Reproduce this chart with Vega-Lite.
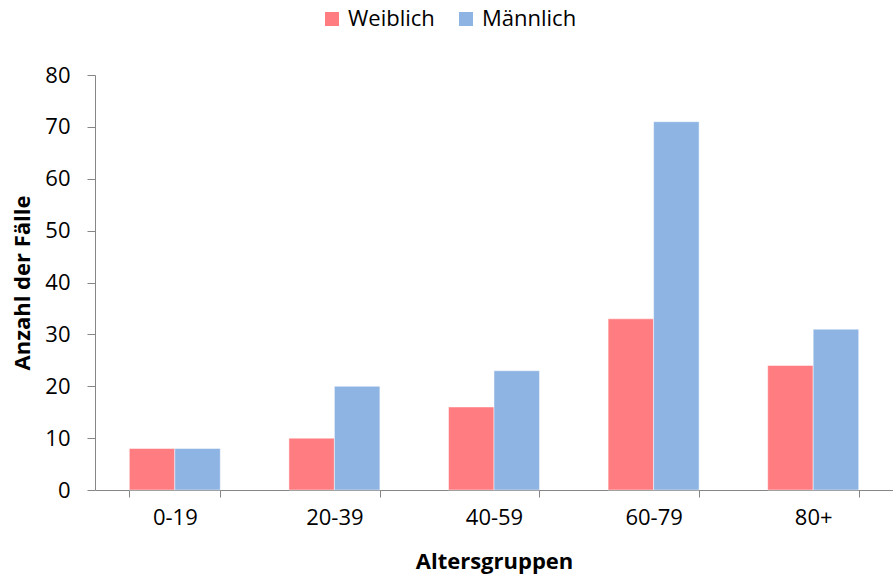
{
  "$schema": "https://vega.github.io/schema/vega-lite/v6.json",
  "autosize": "none",
  "width": 798,
  "height": 415,
  "padding": {"left": 95, "top": 75, "right": 0, "bottom": 89},
  "background": "white",
  "data": {
    "values": [
      {"gruppe": "0-19", "geschlecht": "Weiblich", "anzahl": 8},
      {"gruppe": "0-19", "geschlecht": "Männlich", "anzahl": 8},
      {"gruppe": "20-39", "geschlecht": "Weiblich", "anzahl": 10},
      {"gruppe": "20-39", "geschlecht": "Männlich", "anzahl": 20},
      {"gruppe": "40-59", "geschlecht": "Weiblich", "anzahl": 16},
      {"gruppe": "40-59", "geschlecht": "Männlich", "anzahl": 23},
      {"gruppe": "60-79", "geschlecht": "Weiblich", "anzahl": 33},
      {"gruppe": "60-79", "geschlecht": "Männlich", "anzahl": 71},
      {"gruppe": "80+", "geschlecht": "Weiblich", "anzahl": 24},
      {"gruppe": "80+", "geschlecht": "Männlich", "anzahl": 31}
    ]
  },
  "mark": {"type": "bar", "stroke": "#ffffff", "strokeWidth": 0.8, "strokeOpacity": 0.6},
  "encoding": {
    "x": {
      "field": "gruppe",
      "type": "nominal",
      "sort": ["0-19", "20-39", "40-59", "60-79", "80+"],
      "scale": {"paddingInner": 0.43, "paddingOuter": 0.215},
      "axis": {
        "title": "Altersgruppen",
        "labelAngle": 0,
        "tickBand": "extent",
        "tickSize": 7,
        "labelPadding": 10,
        "titlePadding": 23
      }
    },
    "xOffset": {
      "field": "geschlecht",
      "type": "nominal",
      "sort": ["Weiblich", "Männlich"]
    },
    "y": {
      "field": "anzahl",
      "type": "quantitative",
      "scale": {"domain": [0, 80], "nice": false},
      "axis": {
        "title": "Anzahl der Fälle",
        "values": [0, 10, 20, 30, 40, 50, 60, 70, 80],
        "grid": false,
        "tickSize": 8,
        "labelPadding": 17,
        "titlePadding": 10
      }
    },
    "color": {
      "field": "geschlecht",
      "type": "nominal",
      "sort": ["Weiblich", "Männlich"],
      "scale": {"domain": ["Weiblich", "Männlich"], "range": ["#FF7C80", "#8EB4E3"]},
      "legend": {
        "title": null,
        "orient": "none",
        "direction": "horizontal",
        "legendX": 226,
        "legendY": -67,
        "symbolType": "square",
        "symbolSize": 196,
        "symbolStrokeWidth": 0,
        "labelOffset": 5,
        "columnPadding": 20
      }
    }
  },
  "config": {
    "font": "Open Sans",
    "view": {"stroke": null},
    "axis": {
      "domainColor": "#868686",
      "tickColor": "#868686",
      "labelFont": "Open Sans",
      "labelFontSize": 22,
      "labelColor": "#000000",
      "titleFont": "Open Sans",
      "titleFontSize": 22,
      "titleFontWeight": "bold",
      "titleColor": "#000000"
    },
    "legend": {
      "labelFont": "Open Sans",
      "labelFontSize": 22,
      "labelColor": "#000000"
    }
  }
}
